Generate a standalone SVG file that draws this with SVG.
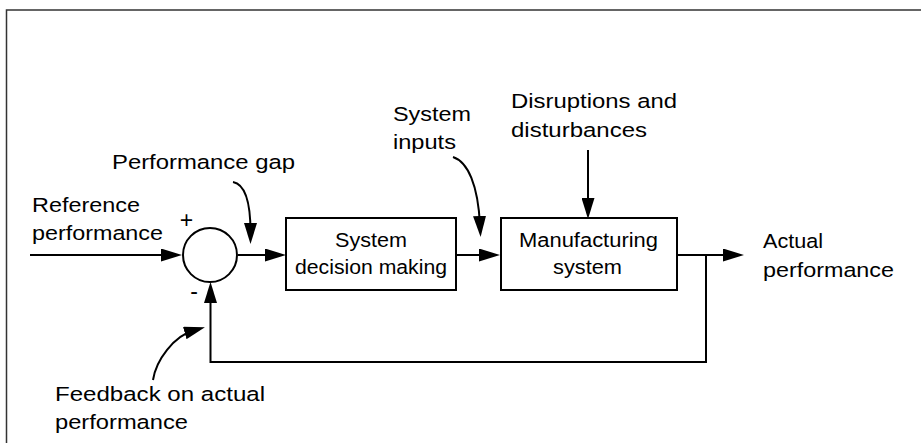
<svg xmlns="http://www.w3.org/2000/svg" width="921" height="443" viewBox="0 0 921 443">
<defs>
<marker id="ah" viewBox="0 0 21 13" refX="9" refY="6.5" markerWidth="21" markerHeight="13" markerUnits="userSpaceOnUse" orient="auto">
<path d="M0,0 L21,6.5 L0,13 z" fill="#000"/>
</marker>
<style>
.ln{fill:none;stroke:#000;stroke-width:2}
.ar{fill:none;stroke:#000;stroke-width:2;marker-end:url(#ah)}
.bx{fill:#fff;stroke:#000;stroke-width:2}
.t{font-family:"Liberation Sans",Arial,Helvetica,sans-serif;font-size:20.5px;fill:#000}
.tb{font-family:"Liberation Sans",Arial,Helvetica,sans-serif;font-size:19.5px;fill:#000}
.s{font-family:"Liberation Sans",Arial,Helvetica,sans-serif;font-size:23px;fill:#000}
</style>
</defs>
<rect width="921" height="443" fill="#fff"/>
<g id="frame">
<path d="M6.5,443 V10 H921" fill="none" stroke="#333" stroke-width="1.5"/>
</g>
<g id="connectors">
<path class="ar" d="M30,255 H170"/>
<path class="ar" d="M238,255 H274"/>
<path class="ar" d="M456,255 H488"/>
<path class="ar" d="M677,255 H732"/>
<path class="ar" d="M706,255 V362 H210.5 V294"/>
<path class="ar" d="M588,150 V207"/>
<path class="ar" d="M233,182 C244,184 250.5,200 250.5,232"/>
<path class="ar" d="M453,157 C468,162 478,185 480,225"/>
<path class="ar" d="M153,380 C156,360 174,336 193.4,330.5"/>
</g>
<g id="sum">
<circle cx="210" cy="255" r="27" fill="#fff" stroke="#000" stroke-width="2"/>
<text class="s" x="186.5" y="228" text-anchor="middle">+</text>
<text class="s" x="194" y="299" text-anchor="middle">-</text>
</g>
<g id="decision">
<rect class="bx" x="286" y="218" width="170" height="72"/>
<text class="tb" x="335" y="247" textLength="72" lengthAdjust="spacingAndGlyphs">System</text>
<text class="tb" x="295" y="274" textLength="152" lengthAdjust="spacingAndGlyphs">decision making</text>
</g>
<g id="manufacturing">
<rect class="bx" x="501" y="218" width="176" height="72"/>
<text class="tb" x="519" y="247" textLength="139" lengthAdjust="spacingAndGlyphs">Manufacturing</text>
<text class="tb" x="553" y="274" textLength="69" lengthAdjust="spacingAndGlyphs">system</text>
</g>
<g id="labels">
<text class="t" x="112" y="169" textLength="183" lengthAdjust="spacingAndGlyphs">Performance gap</text>
<text class="t" x="32" y="212" textLength="108" lengthAdjust="spacingAndGlyphs">Reference</text>
<text class="t" x="32" y="240" textLength="131" lengthAdjust="spacingAndGlyphs">performance</text>
<text class="t" x="393" y="121" textLength="78" lengthAdjust="spacingAndGlyphs">System</text>
<text class="t" x="393" y="149" textLength="63" lengthAdjust="spacingAndGlyphs">inputs</text>
<text class="t" x="511" y="108" textLength="166" lengthAdjust="spacingAndGlyphs">Disruptions and</text>
<text class="t" x="511" y="137" textLength="136" lengthAdjust="spacingAndGlyphs">disturbances</text>
<text class="t" x="763" y="248" textLength="60" lengthAdjust="spacingAndGlyphs">Actual</text>
<text class="t" x="763" y="277" textLength="131" lengthAdjust="spacingAndGlyphs">performance</text>
<text class="t" x="55" y="401" textLength="210" lengthAdjust="spacingAndGlyphs">Feedback on actual</text>
<text class="t" x="55" y="429" textLength="133" lengthAdjust="spacingAndGlyphs">performance</text>
</g>
</svg>
